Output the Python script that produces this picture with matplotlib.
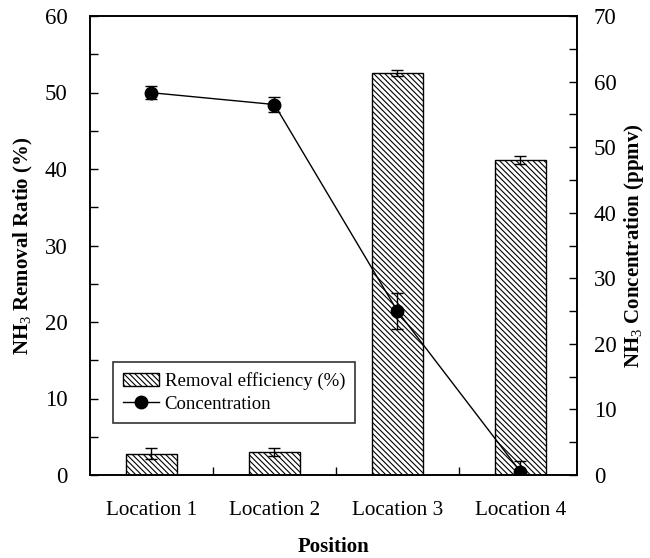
import matplotlib
matplotlib.use("Agg")
import matplotlib.pyplot as plt
from matplotlib.ticker import MultipleLocator, FixedLocator
import numpy as np

plt.rcParams['font.family'] = ['Liberation Serif', 'DejaVu Serif']
plt.rcParams['mathtext.fontset'] = 'custom'
plt.rcParams['mathtext.rm'] = 'Liberation Serif'
plt.rcParams['mathtext.bf'] = 'Liberation Serif:bold'
plt.rcParams['hatch.linewidth'] = 0.8

locations = ["Location 1", "Location 2", "Location 3", "Location 4"]
removal_ratio = [2.8, 3.0, 52.5, 41.2]
removal_err = [0.7, 0.5, 0.4, 0.5]
concentration = [58.3, 56.5, 25.0, 0.5]
concentration_err = [1.0, 1.2, 2.8, 1.6]

fig = plt.figure(figsize=(6.5, 5.58), dpi=100)
ax = fig.add_axes([90 / 650, 1 - 475 / 558, 487 / 650, 459 / 558])
x = np.arange(len(locations))

bars = ax.bar(x, removal_ratio, width=0.41, color='white', edgecolor='black',
              hatch='\\\\\\\\\\\\', linewidth=1.0, label='Removal efficiency (%)',
              zorder=2)
ax.errorbar(x, removal_ratio, yerr=removal_err, fmt='none', ecolor='black',
            elinewidth=1.0, capsize=4, capthick=1.0, zorder=3)

ax.set_xlim(-0.5, 3.46)
ax.set_ylim(0, 60)
ax.yaxis.set_major_locator(MultipleLocator(10))
ax.yaxis.set_minor_locator(MultipleLocator(5))
ax.set_xticks(x)
ax.set_xticklabels(locations, fontsize=15.3)
ax.xaxis.set_minor_locator(FixedLocator([0.5, 1.5, 2.5]))
ax.tick_params(axis='x', which='major', length=0, pad=19)
ax.tick_params(axis='x', which='minor', direction='in', length=6, width=1)
ax.tick_params(axis='y', which='both', direction='in', width=1, length=6,
               labelsize=16.5, pad=16)
for s in ax.spines.values():
    s.set_linewidth(1.2)

ax.set_ylabel('NH$_3$ Removal Ratio (%)', fontsize=15, fontweight='bold', labelpad=7)
ax.set_xlabel('Position', fontsize=15, fontweight='bold', labelpad=12)

ax2 = ax.twinx()
ax2.set_ylim(0, 70)
ax2.yaxis.set_major_locator(MultipleLocator(10))
ax2.yaxis.set_minor_locator(MultipleLocator(5))
ax2.tick_params(axis='y', which='both', direction='in', width=1, length=6,
                labelsize=16.5, pad=12)
line = ax2.errorbar(x, concentration, yerr=concentration_err, color='black',
                    marker='o', markersize=9, linewidth=1.0, elinewidth=1.0,
                    capsize=4, capthick=1.0, label='Concentration', zorder=4)
ax2.set_ylabel('NH$_3$ Concentration (ppmv)', fontsize=15, fontweight='bold',
               labelpad=4)
for s in ax2.spines.values():
    s.set_linewidth(1.2)

leg = ax2.legend([bars, line[0]], ['Removal efficiency (%)', 'Concentration'],
                 loc='lower left', bbox_to_anchor=(23 / 487, 52 / 459),
                 fontsize=13.5, frameon=True, fancybox=False, edgecolor='#333333',
                 framealpha=1, handlelength=1.9, handletextpad=0.3,
                 borderpad=0.55, labelspacing=0.3, borderaxespad=0)
leg.get_frame().set_linewidth(1.2)

fig.savefig('out.png', dpi=100)
